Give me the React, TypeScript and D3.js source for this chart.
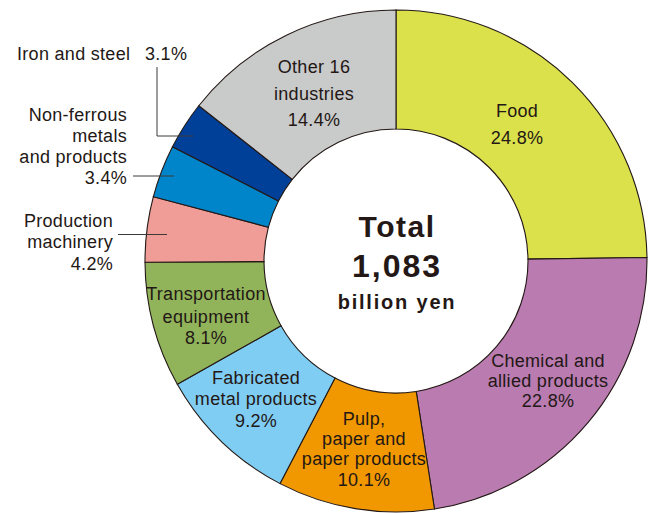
import React from "react";
import * as d3 from "d3";

const categories = [
  "Food",
  "Chemical and allied products",
  "Pulp, paper and paper products",
  "Fabricated metal products",
  "Transportation equipment",
  "Production machinery",
  "Non-ferrous metals and products",
  "Iron and steel",
  "Other 16 industries",
];
const shares = [24.8, 22.8, 10.1, 9.2, 8.1, 4.2, 3.4, 3.1, 14.4];
const colors = ["#dbe14b", "#b97bb0", "#f19700", "#7fcdf3", "#91b45b", "#f09c97", "#0085ca", "#004098", "#c9caca"];
const nameLines = [
  ["Food"],
  ["Chemical and", "allied products"],
  ["Pulp,", "paper and", "paper products"],
  ["Fabricated", "metal products"],
  ["Transportation", "equipment"],
  ["Production", "machinery"],
  ["Non-ferrous", "metals", "and products"],
  ["Iron and steel"],
  ["Other 16", "industries"],
];
const totalLines = ["Total", "1,083", "billion yen"];

// layout (not data)
const W = 651, H = 513;
const CX = 396, CY = 261, R_OUT = 251, R_IN = 132;
const labelLayout: { x: number; ys: number[]; anchor: string }[] = [
  { x: 517, ys: [117, 144], anchor: "middle" },
  { x: 548, ys: [366.7, 386.7, 406.7], anchor: "middle" },
  { x: 364, ys: [425, 445, 465, 485.7], anchor: "middle" },
  { x: 256, ys: [384, 405.3, 426.7], anchor: "middle" },
  { x: 206, ys: [300, 322.7, 344.3], anchor: "middle" },
  { x: 113, ys: [227.3, 248.3, 270], anchor: "end" },
  { x: 127, ys: [120.7, 141.7, 163.3, 184.3], anchor: "end" },
  { x: 17, ys: [60], anchor: "start" },
  { x: 314, ys: [73.3, 100, 126], anchor: "middle" },
];
const leaders = [
  [[157, 67], [157, 136], [193, 136]],
  [[133, 176], [174, 176]],
  [[118, 234.5], [167, 234.5]],
];

const TEXT = "#231815";
const FONT = "'Liberation Sans', Arial, Helvetica, sans-serif";

export default function App() {
  const pie = d3.pie<number>().sort(null).value((d) => d);
  const arcs = pie(shares);
  const arcGen = d3.arc<d3.PieArcDatum<number>>().innerRadius(R_IN).outerRadius(R_OUT);
  const line = d3.line();

  return (
    <svg width={W} height={H} style={{ position: "absolute", left: 0, top: 0, background: "#fff" }} fontFamily={FONT}>
      <g transform={`translate(${CX},${CY})`}>
        {arcs.map((a, i) => (
          <path key={categories[i]} d={arcGen(a) || ""} fill={colors[i]} stroke={TEXT} strokeWidth={1.1} />
        ))}
      </g>
      {leaders.map((pts, i) => (
        <path key={i} d={line(pts as [number, number][]) || ""} fill="none" stroke="#3e3a39" strokeWidth={1} />
      ))}
      {categories.map((c, i) => {
        const lay = labelLayout[i];
        const pct = `${shares[i].toFixed(1)}%`;
        if (c === "Iron and steel") {
          return (
            <g key={c} fill={TEXT} fontSize={18} letterSpacing={0.3}>
              <text x={lay.x} y={lay.ys[0]}>{nameLines[i][0]}</text>
              <text x={145} y={lay.ys[0]}>{pct}</text>
            </g>
          );
        }
        const lines = [...nameLines[i], pct];
        return (
          <g key={c} fill={TEXT} fontSize={18} letterSpacing={0.3} textAnchor={lay.anchor}>
            {lines.map((t, j) => (
              <text key={j} x={lay.x} y={lay.ys[j]}>{t}</text>
            ))}
          </g>
        );
      })}
      <g fill={TEXT} fontWeight="bold" textAnchor="middle">
        <text x={397} y={236.7} fontSize={30} letterSpacing={1.5}>{totalLines[0]}</text>
        <text x={397} y={276.7} fontSize={32} letterSpacing={2}>{totalLines[1]}</text>
        <text x={397} y={309.3} fontSize={20} letterSpacing={1.8}>{totalLines[2]}</text>
      </g>
    </svg>
  );
}
